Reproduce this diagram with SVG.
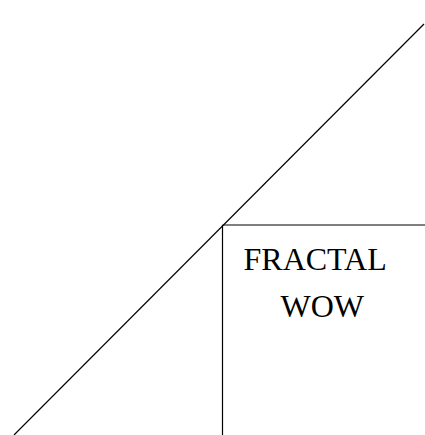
<svg xmlns="http://www.w3.org/2000/svg" width="425" height="435" viewBox="0 0 425 435">
<style>
.ln{stroke:#000;stroke-width:1.2;fill:none}
.t{font-family:"Liberation Serif","Times New Roman",serif;font-size:32px;fill:#000}
</style>
<rect width="425" height="435" fill="#fff"/>
<g id="connectors">
<line class="ln" x1="14" y1="435" x2="424" y2="24"/>
<line class="ln" x1="222.5" y1="225" x2="222.5" y2="435"/>
<line class="ln" x1="222.5" y1="225" x2="425" y2="225"/>
</g>
<g id="label">
<text class="t" x="243.5" y="270">FRACTAL</text>
<text class="t" x="280.5" y="317">WOW</text>
</g>
</svg>
